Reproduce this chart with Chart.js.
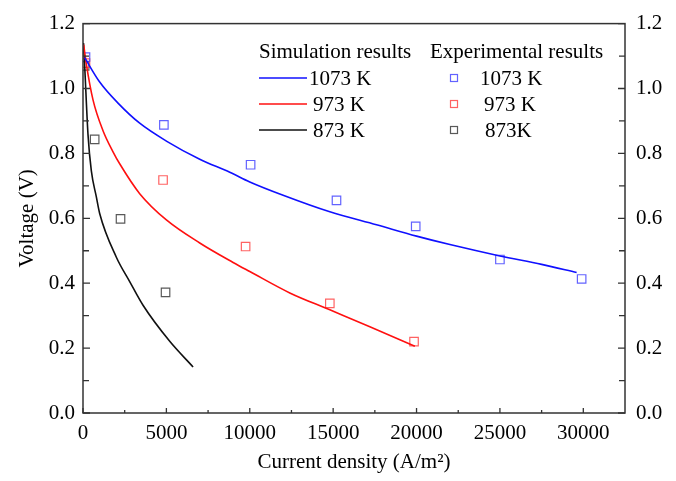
<!DOCTYPE html>
<html>
<head>
<meta charset="utf-8">
<script src="https://cdn.jsdelivr.net/npm/chart.js@4.4.1/dist/chart.umd.min.js"></script>
<style>
  html, body { margin: 0; padding: 0; background: #fff; }
  #wrap { width: 676px; height: 481px; position: relative; }
</style>
</head>
<body>
<div id="wrap"><canvas id="chart"></canvas></div>
<script>
// ---- data ----
// simulation curves (current density A/m2, voltage V)
const sim1073X = [100, 1000, 2100, 3400, 5000, 7000, 8800, 10000, 12000, 14800, 17600, 20000, 22000, 25000, 27500, 29600];
const sim1073V = [1.095, 1.02, 0.955, 0.893, 0.838, 0.782, 0.742, 0.712, 0.671, 0.620, 0.580, 0.545, 0.519, 0.484, 0.458, 0.433];
const sim973X = [40, 200, 600, 1200, 1800, 2200, 3400, 5000, 7000, 9000, 10000, 12400, 14800, 17200, 19900];
const sim973V = [1.135, 1.075, 0.965, 0.870, 0.805, 0.768, 0.676, 0.595, 0.524, 0.464, 0.436, 0.370, 0.318, 0.266, 0.206];
const sim873X = [30, 100, 300, 500, 800, 1000, 2000, 2800, 3600, 5200, 6600];
const sim873V = [1.14, 1.07, 0.858, 0.746, 0.666, 0.615, 0.480, 0.405, 0.332, 0.221, 0.142];

// experimental points
const exp1073X = [150, 4850, 10050, 15200, 19950, 25000, 29900];
const exp1073V = [1.097, 0.888, 0.765, 0.655, 0.575, 0.473, 0.413];
const exp973X = [150, 4800, 9750, 14800, 19850];
const exp973V = [1.078, 0.718, 0.513, 0.338, 0.220];
const exp873X = [100, 700, 2250, 4950];
const exp873V = [1.07, 0.843, 0.598, 0.372];

// axes
const xTickValues = [0, 5000, 10000, 15000, 20000, 25000, 30000];
const xMinorValues = [2500, 7500, 12500, 17500, 22500, 27500, 32500];
const yTickValues = [0, 0.2, 0.4, 0.6, 0.8, 1.0, 1.2];
const yMinorValues = [0.1, 0.3, 0.5, 0.7, 0.9, 1.1];

const simLabels = ['1073 K', '973 K', '873 K'];
const expLabels = ['1073 K', '973 K', '873K'];
const simHeader = 'Simulation results';
const expHeader = 'Experimental results';

const FONT = "'Liberation Serif', 'Times New Roman', serif";
const AXIS = '#333333';

const toPts = (xs, ys) => xs.map((x, i) => ({ x: x, y: ys[i] }));

function simSet(label, xs, ys, color) {
    return {
        label: label, kind: 'sim',
        data: toPts(xs, ys),
        showLine: true,
        borderColor: color,
        borderWidth: 1.6,
        pointRadius: 0,
        cubicInterpolationMode: 'monotone',
        fill: false
    };
}

function expSet(label, xs, ys, color) {
    return {
        label: label, kind: 'exp',
        data: toPts(xs, ys),
        showLine: false,
        pointStyle: 'rect',
        pointRadius: 6,
        borderWidth: 1.2,
        borderColor: color,
        backgroundColor: 'rgba(255,255,255,0)',
        pointBorderColor: color,
        pointBackgroundColor: 'rgba(255,255,255,0)'
    };
}

// inward ticks + closed frame
const framePlugin = {
    id: 'frame',
    afterDatasetsDraw(chart) {
        const { ctx, chartArea: a, scales: { x, y } } = chart;
        ctx.save();
        ctx.strokeStyle = AXIS;
        ctx.lineWidth = 1.5;
        ctx.strokeRect(a.left, a.top, a.right - a.left, a.bottom - a.top);
        ctx.lineWidth = 1.3;
        ctx.beginPath();
        xTickValues.forEach(v => { const p = x.getPixelForValue(v); ctx.moveTo(p, a.bottom); ctx.lineTo(p, a.bottom - 5); });
        xMinorValues.forEach(v => { if (v >= x.max) return; const p = x.getPixelForValue(v); ctx.moveTo(p, a.bottom); ctx.lineTo(p, a.bottom - 3); });
        yTickValues.concat(yMinorValues).forEach(v => {
            const p = y.getPixelForValue(v);
            const len = yTickValues.includes(v) ? 7 : 6;
            ctx.moveTo(a.left, p); ctx.lineTo(a.left + len, p);
            ctx.moveTo(a.right, p); ctx.lineTo(a.right - len, p);
        });
        ctx.stroke();
        ctx.restore();
    }
};

// two-column legend with headers
const legendPlugin = {
    id: 'twoColLegend',
    afterDraw(chart) {
        const ctx = chart.ctx;
        const rowY = [78, 104, 130];
        const rowBase = [85, 111, 137];
        const simTextX = [309, 313, 313];
        const expTextX = [480, 484, 485];
        const sims = chart.data.datasets.filter(d => d.kind === 'sim');
        const exps = chart.data.datasets.filter(d => d.kind === 'exp');
        ctx.save();
        ctx.fillStyle = '#000';
        ctx.font = '21px ' + FONT;
        ctx.textBaseline = 'alphabetic';
        ctx.textAlign = 'left';
        ctx.fillText(simHeader, 259, 58);
        ctx.fillText(expHeader, 430, 58);
        sims.forEach((d, i) => {
            ctx.strokeStyle = d.borderColor;
            ctx.lineWidth = 1.6;
            ctx.beginPath();
            ctx.moveTo(259, rowY[i]); ctx.lineTo(307, rowY[i]);
            ctx.stroke();
            ctx.fillText(simLabels[i], simTextX[i], rowBase[i]);
        });
        exps.forEach((d, i) => {
            ctx.strokeStyle = d.borderColor;
            ctx.lineWidth = 1.2;
            ctx.strokeRect(450.5, rowY[i] - 3.5, 7, 7);
            ctx.fillText(expLabels[i], expTextX[i], rowBase[i]);
        });
        ctx.restore();
    }
};

const yScaleBase = {
    type: 'linear',
    min: 0, max: 1.2,
    grid: { display: false, drawTicks: false },
    border: { display: false },
    afterBuildTicks: s => { s.ticks = yTickValues.map(v => ({ value: v })); },
    ticks: {
        color: '#000',
        font: { family: FONT, size: 21 },
        callback: v => v.toFixed(1)
    }
};

new Chart(document.getElementById('chart'), {
    type: 'scatter',
    data: {
        datasets: [
            simSet(simLabels[0], sim1073X, sim1073V, '#1010ff'),
            simSet(simLabels[1], sim973X, sim973V, '#ff1010'),
            simSet(simLabels[2], sim873X, sim873V, '#111111'),
            expSet(expLabels[0], exp1073X, exp1073V, 'rgba(70,70,255,0.85)'),
            expSet(expLabels[1], exp973X, exp973V, 'rgba(255,70,70,0.85)'),
            expSet(expLabels[2], exp873X, exp873V, 'rgba(60,60,60,0.85)')
        ]
    },
    options: {
        responsive: true,
        maintainAspectRatio: false,
        animation: false,
        layout: { padding: { top: 17, left: 0, right: 0, bottom: 0 } },
        plugins: { legend: { display: false }, tooltip: { enabled: false } },
        scales: {
            x: {
                type: 'linear',
                position: 'bottom',
                min: 0, max: 32500,
                grid: { display: false, drawTicks: false },
                border: { display: false },
                afterBuildTicks: s => { s.ticks = xTickValues.map(v => ({ value: v })); },
                afterFit: s => { s.height = 68; },
                ticks: {
                    color: '#000',
                    padding: 8,
                    maxRotation: 0,
                    font: { family: FONT, size: 21 },
                    callback: v => String(v)
                },
                title: {
                    display: true,
                    text: 'Current density (A/m²)',
                    color: '#000',
                    font: { family: FONT, size: 21 },
                    padding: { top: 0, bottom: 6 }
                }
            },
            y: {
                ...yScaleBase,
                position: 'left',
                afterFit: s => { s.width = 83; },
                ticks: { ...yScaleBase.ticks, padding: 8 },
                title: {
                    display: true,
                    text: 'Voltage (V)',
                    color: '#000',
                    font: { family: FONT, size: 21 },
                    padding: { top: 15, bottom: 0 }
                }
            },
            y2: {
                ...yScaleBase,
                position: 'right',
                afterFit: s => { s.width = 51; },
                ticks: { ...yScaleBase.ticks, padding: 11 }
            }
        }
    },
    plugins: [framePlugin, legendPlugin]
});
</script>
</body>
</html>
